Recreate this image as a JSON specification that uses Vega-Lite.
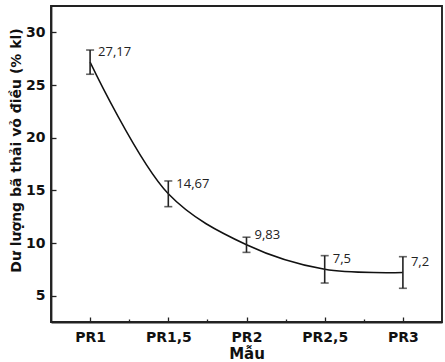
{
  "$schema": "https://vega.github.io/schema/vega-lite/v6.json",
  "autosize": "none",
  "width": 391,
  "height": 316,
  "padding": {"left": 51, "top": 6, "right": 3, "bottom": 40},
  "background": "white",
  "config": {
    "view": {"stroke": "#222", "strokeWidth": 1.9},
    "axis": {
      "domainColor": "#222",
      "domainWidth": 1.8,
      "tickColor": "#222",
      "tickWidth": 1.3,
      "grid": false,
      "labelFont": "DejaVu Sans",
      "labelFontWeight": "bold",
      "labelFontSize": 14,
      "labelColor": "#111",
      "titleFont": "DejaVu Sans",
      "titleFontWeight": "bold",
      "titleFontSize": 14,
      "titleColor": "#111"
    }
  },
  "data": {
    "values": [
      {"mau": "PR1", "ratio": 1.0, "value": 27.17, "lo": 26.02, "hi": 28.32, "label": "27,17"},
      {"mau": "PR1,5", "ratio": 1.5, "value": 14.67, "lo": 13.45, "hi": 15.89, "label": "14,67"},
      {"mau": "PR2", "ratio": 2.0, "value": 9.83, "lo": 9.11, "hi": 10.55, "label": "9,83"},
      {"mau": "PR2,5", "ratio": 2.5, "value": 7.5, "lo": 6.2, "hi": 8.8, "label": "7,5"},
      {"mau": "PR3", "ratio": 3.0, "value": 7.2, "lo": 5.7, "hi": 8.7, "label": "7,2"}
    ]
  },
  "encoding": {
    "x": {
      "field": "ratio",
      "type": "quantitative",
      "scale": {"domain": [0.75, 3.25], "nice": false, "zero": false},
      "axis": {
        "title": "Mẫu",
        "titleFontSize": 15,
        "titleY": 39,
        "titleBaseline": "bottom",
        "values": [1, 1.25, 1.5, 1.75, 2, 2.25, 2.5, 2.75, 3],
        "labelExpr": "datum.value % 0.5 === 0 ? 'PR' + replace(format(datum.value, '~g'), '.', ',') : ''",
        "tickSize": {"condition": {"test": "datum.value % 0.5 !== 0", "value": -3}, "value": -5},
        "labelPadding": 13,
        "labelFlush": false,
        "labelOverlap": false
      }
    }
  },
  "layer": [
    {
      "mark": {"type": "line", "color": "#111", "strokeWidth": 1.5, "interpolate": "catmull-rom"},
      "encoding": {
        "y": {
          "field": "value",
          "type": "quantitative",
          "scale": {"domain": [2.5, 32.5], "nice": false, "zero": false},
          "axis": {
            "title": "Dư lượng bã thải vỏ điều (% kl)",
            "titleX": -28,
            "titleY": 144,
            "titleBaseline": "bottom",
            "titleAlign": "center",
            "titleAngle": -90,
            "values": [5, 7.5, 10, 12.5, 15, 17.5, 20, 22.5, 25, 27.5, 30],
            "labelExpr": "datum.value % 5 === 0 ? datum.value : ''",
            "tickSize": {"condition": {"test": "datum.value % 5 !== 0", "value": -3}, "value": -5},
            "labelPadding": 11,
            "labelFlush": false,
            "labelOverlap": false
          }
        }
      }
    },
    {
      "mark": {"type": "rule", "color": "#222", "strokeWidth": 1.6},
      "encoding": {
        "y": {"field": "lo", "type": "quantitative"},
        "y2": {"field": "hi"}
      }
    },
    {
      "mark": {"type": "tick", "orient": "horizontal", "color": "#222", "size": 8, "thickness": 1.6},
      "encoding": {"y": {"field": "lo", "type": "quantitative"}}
    },
    {
      "mark": {"type": "tick", "orient": "horizontal", "color": "#222", "size": 8, "thickness": 1.6},
      "encoding": {"y": {"field": "hi", "type": "quantitative"}}
    },
    {
      "mark": {"type": "text", "align": "left", "baseline": "middle", "dx": 8, "dy": -10, "font": "Open Sans", "fontSize": 13, "color": "#222"},
      "encoding": {
        "y": {"field": "value", "type": "quantitative"},
        "text": {"field": "label"}
      }
    }
  ]
}
